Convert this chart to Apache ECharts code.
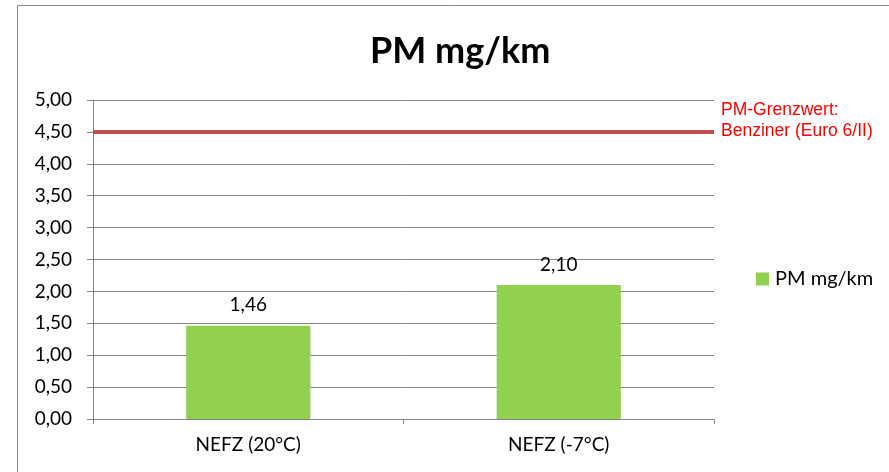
<!DOCTYPE html>
<html><head><meta charset="utf-8">
<script src="https://cdn.jsdelivr.net/npm/echarts@6/dist/echarts.min.js"></script>
<style>html,body{margin:0;padding:0;background:#fff}#c{width:889px;height:472px}</style>
</head><body><div id="c"></div>
<script>
const categories = ['NEFZ (20°C)', 'NEFZ (-7°C)'];
const pmValues = [1.46, 2.10];
const seriesName = 'PM mg/km';
const limitValue = 4.5;
const limitLabel = 'PM-Grenzwert:\nBenziner (Euro 6/II)';
const titleText = 'PM mg/km';
const fmt = v => v.toFixed(2).replace('.', ',');
const FONT = 'Lato, "Open Sans", sans-serif';

const chart = echarts.init(document.getElementById('c'), null, {renderer: 'canvas'});
chart.setOption({
  animation: false,
  backgroundColor: '#fff',
  graphic: [{type: 'rect', shape: {x: 17.5, y: 5.5, width: 1000, height: 1000}, style: {fill: 'none', stroke: '#8c8c8c', lineWidth: 1}, z: -1}],
  title: {text: titleText, left: 365, top: 28, textStyle: {fontFamily: FONT, fontWeight: 'bold', fontSize: 36, color: '#000'}},
  legend: {data: [seriesName], left: 751, top: 264, icon: 'rect', itemWidth: 13, itemHeight: 13, itemGap: 4,
    textStyle: {fontFamily: FONT, fontSize: 20, color: '#000', padding: [0, 0, 0, 1]}},
  grid: {left: 93, right: 175, top: 100, bottom: 53},
  xAxis: {type: 'category', data: categories,
    axisLine: {lineStyle: {color: '#868686', width: 1}},
    axisTick: {show: true, length: 5, lineStyle: {color: '#868686'}},
    axisLabel: {fontFamily: FONT, fontSize: 19, color: '#000', margin: 16}},
  yAxis: {type: 'value', min: 0, max: 5, interval: 0.5,
    axisLine: {show: true, lineStyle: {color: '#868686'}},
    axisTick: {show: true, length: 6, lineStyle: {color: '#868686'}},
    splitLine: {lineStyle: {color: '#868686', width: 1}},
    axisLabel: {fontFamily: FONT, fontSize: 19, color: '#000', margin: 21, formatter: fmt}},
  series: [{
    name: seriesName, type: 'bar', data: pmValues, barWidth: '40%',
    itemStyle: {color: '#92d050'},
    label: {show: true, position: 'top', distance: 11, fontFamily: FONT, fontSize: 19, color: '#000', formatter: p => fmt(p.value)},
    markLine: {silent: true, symbol: ['none', 'none'],
      lineStyle: {color: '#c0504d', width: 4, type: 'solid'},
      label: {show: true, position: 'end', distance: 7, offset: [0, -11], formatter: limitLabel, color: '#ff0000',
        fontFamily: '"Liberation Sans", Arial, sans-serif', fontSize: 17.5, lineHeight: 21, align: 'left'},
      data: [{yAxis: limitValue}]}
  }]
});
</script></body></html>
